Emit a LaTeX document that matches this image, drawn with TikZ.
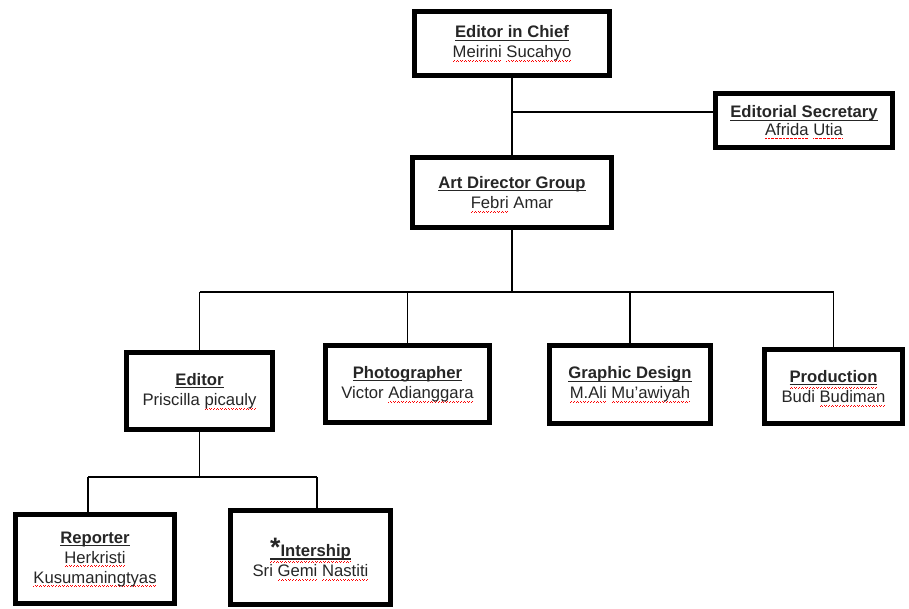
\documentclass[tikz,border=0pt]{standalone}
\usepackage{fontspec}
\setmainfont{Liberation Sans}
\usetikzlibrary{positioning}

\newsavebox\ttlbox
\newsavebox\sqbox
% bold title with a plain underline
\newcommand{\ttl}[1]{\sbox\ttlbox{\bfseries #1}\rlap{\rule[-2.2pt]{\wd\ttlbox}{0.8pt}}\usebox\ttlbox}
% red wavy spell-check mark under a word
\newcommand{\sq}[2][3pt]{\sbox\sqbox{#2}\rlap{\color{red}\raisebox{0pt}[0pt][0pt]{\hbox to \wd\sqbox{\xleaders\hbox{\rule[-#1]{0.55pt}{0.55pt}\kern0.45pt\rule[\dimexpr0.6pt-#1\relax]{0.55pt}{0.55pt}\kern0.45pt}\hfil}}}\usebox\sqbox}

\begin{document}
\begin{tikzpicture}[x=0.75pt, y=-0.75pt,
  box/.style={draw, line width=3.6pt, align=center, inner sep=0pt, text=black!85,
    font=\fontsize{12.5}{15}\selectfont},
  link/.style={line width=1.1pt}]
\useasboundingbox (0,0) rectangle (909,608);

\node[box, minimum width=146.4pt, minimum height=48pt]   (chief)    at (512,43.5)
  {\ttl{Editor in Chief}\\ \sq{Meirini} \sq{Sucahyo}};
\node[box, minimum width=133pt, minimum height=40pt, font=\fontsize{12.5}{13}\selectfont] (sec) at (804,120.5)
  {\ttl{Editorial Secretary}\\ \sq{Afrida} \sq{Utia}};
\node[box, minimum width=149.4pt, minimum height=52.6pt] (art)      at (512,192.5)
  {\ttl{Art Director Group}\\ \sq{Febri} Amar};
\node[box, minimum width=109.6pt, minimum height=58pt]   (editor)   at (199.5,391)
  {\ttl{Editor}\\ Priscilla \sq{picauly}};
\node[box, minimum width=123pt, minimum height=58pt]     (photo)    at (407.5,384)
  {\ttl{Photographer}\\ Victor \sq{Adianggara}};
\node[box, minimum width=121pt, minimum height=58.6pt]   (graphic)  at (630,384.5)
  {\ttl{Graphic Design}\\ \sq{M.Ali} \sq{Mu'awiyah}};
\node[box, minimum width=103.6pt, minimum height=55.6pt] (prod)     at (833.5,386.5)
  {\sq[4.4pt]{\ttl{Production}}\\ Budi \sq{Budiman}};
\node[box, minimum width=119.4pt, minimum height=67pt]   (reporter) at (95,559)
  {\ttl{Reporter}\\ \sq{Herkristi}\\ \sq{Kusumaningtyas}};
\node[box, minimum width=120pt, minimum height=70.6pt]   (intern)   at (310.5,557.5)
  {\sq[4.4pt]{\ttl{{\fontsize{20}{20}\selectfont *}Intership}}\\ Sri \sq{Gemi} \sq{Nastiti}};

\coordinate (split) at (512,112);
\coordinate (bus)   at (0,292);
\coordinate (sub)   at (0,477);
\coordinate (rp)    at (88,477);
\coordinate (ip)    at (317,477);

% top of the chart
\draw[link] (chief) -- (art);
\draw[link] (split) -- (split -| sec.west);
\draw[link] (art) -- (art |- bus);
% second level
\draw[link] (editor |- bus) -- (prod |- bus);
\foreach \n in {editor,photo,graphic,prod}
  \draw[link] (\n |- bus) -- (\n);
% under the editor
\draw[link] (editor) -- (editor |- sub);
\draw[link] (rp) -- (ip);
\draw[link] (rp) -- (rp |- reporter.north);
\draw[link] (ip) -- (ip |- intern.north);
\end{tikzpicture}
\end{document}
